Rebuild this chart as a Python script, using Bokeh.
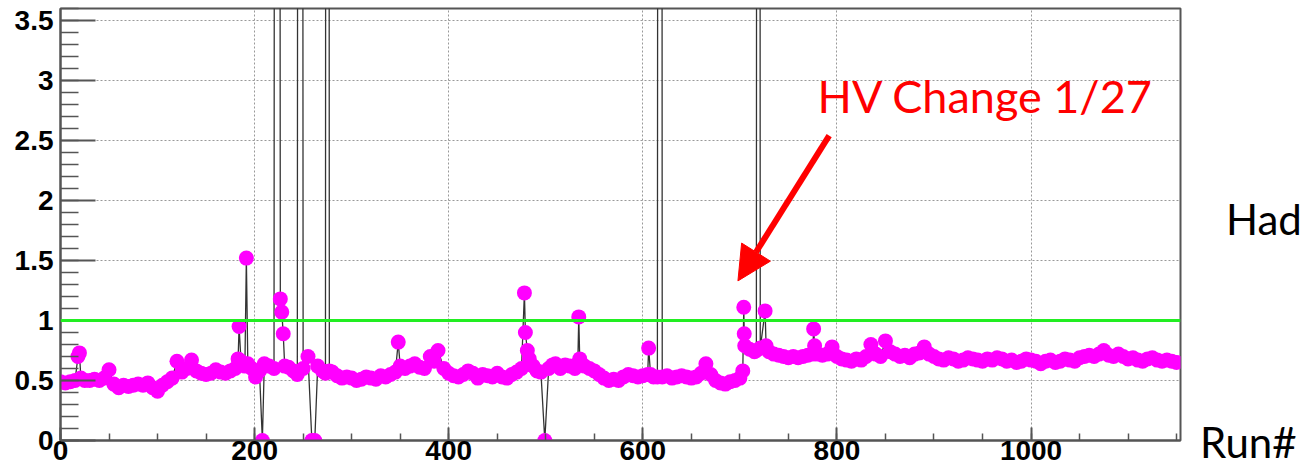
from bokeh.plotting import figure
from bokeh.layouts import row
from bokeh.models import Span, Label, Arrow, NormalHead, SingleIntervalTicker, Range1d, ColumnDataSource, Div
from bokeh.embed import file_html
from bokeh.resources import INLINE

# ---------------- data ----------------
# run index (x) and ratio (y); 40 marks off-scale points, 0 marks failed runs
run = [
    0, 5, 10, 15, 18, 19.5, 21, 25, 30, 35, 40, 45, 50, 55, 60, 65, 70, 75, 80, 85,
    90, 95, 100, 105, 110, 115, 120, 125, 130, 135, 140, 145, 150, 155, 160, 165, 170, 175, 180, 183,
    184, 186, 190, 191.5, 193, 197, 201,
    205, 208, 210, 215, 220, 223, 226.5, 228, 229.5, 231, 235, 240, 244, 247, 250, 255, 259, 262, 265,
    270, 273, 275, 277, 280, 285, 290, 295, 300,
    305, 310, 315, 320, 325, 330, 335, 340, 345, 348, 350, 355, 360, 365, 370, 375, 381, 385, 389, 395,
    400, 405, 410, 415, 420, 425, 430, 435, 440, 445, 450, 455, 460, 465, 470, 475, 478, 479, 481, 483,
    487, 491, 495, 499, 503,
    507, 510, 515, 520, 525, 530, 533, 534, 535, 540, 545, 550, 555, 560, 565, 570, 575, 580, 585, 590,
    595, 600, 605, 606, 608, 611, 615, 618, 620, 625, 630, 635, 640, 645, 650, 655, 660, 665, 670, 675,
    680, 685, 690, 695, 700, 703, 704, 704.5,
    705, 710, 715, 717, 719, 721, 726, 727, 730, 735, 740, 745, 750, 755, 760, 765, 770, 775, 776, 777,
    780, 785, 790, 795, 800, 805, 810, 815, 820, 825, 830, 835, 840, 845, 850, 855, 860, 865, 870, 875,
    880, 885, 890, 895, 900, 905, 910, 915, 920, 925, 930, 935, 940, 945, 950, 955, 960, 965, 970, 975,
    980, 985, 990, 995, 1000, 1005, 1010, 1015, 1020, 1025, 1030, 1035, 1040, 1045, 1050, 1055, 1060, 1065, 1070, 1075,
    1080, 1085, 1090, 1095, 1100, 1105, 1110, 1115, 1120, 1125, 1130, 1135, 1140, 1145, 1150,
]
ratio = [
    0.49, 0.48, 0.49, 0.50, 0.70, 0.73, 0.52, 0.50, 0.50, 0.51, 0.50, 0.52, 0.59, 0.47, 0.44, 0.46, 0.45, 0.46, 0.47, 0.46,
    0.48, 0.44, 0.41, 0.46, 0.49, 0.52, 0.66, 0.57, 0.60, 0.67, 0.58, 0.56, 0.55, 0.56, 0.59, 0.57, 0.56, 0.58, 0.60, 0.68,
    0.95, 0.66, 0.62, 1.52, 0.64, 0.60, 0.53,
    0.58, 0.00, 0.64, 0.62, 0.60, 40.0, 1.18, 1.07, 0.89, 0.62, 0.61, 0.58, 0.55, 40.0, 0.60, 0.70, 0.00, 0.00, 0.62,
    0.58, 0.56, 40.0, 0.58, 0.57, 0.54, 0.52, 0.53, 0.52,
    0.50, 0.51, 0.53, 0.52, 0.51, 0.54, 0.53, 0.55, 0.57, 0.82, 0.62, 0.60, 0.62, 0.64, 0.61, 0.60, 0.70, 0.66, 0.75, 0.60,
    0.56, 0.54, 0.53, 0.55, 0.58, 0.56, 0.52, 0.55, 0.54, 0.53, 0.56, 0.53, 0.52, 0.55, 0.57, 0.60, 1.23, 0.90, 0.75, 0.68,
    0.62, 0.58, 0.57, 0.00, 0.60,
    0.63, 0.64, 0.60, 0.63, 0.62, 0.60, 0.64, 1.03, 0.68, 0.62, 0.60, 0.58, 0.55, 0.52, 0.50, 0.51, 0.50, 0.53, 0.55, 0.54,
    0.53, 0.54, 0.55, 0.77, 0.55, 0.53, 0.53, 40.0, 0.53, 0.54, 0.52, 0.53, 0.54, 0.53, 0.52, 0.53, 0.56, 0.64, 0.55, 0.50,
    0.48, 0.47, 0.49, 0.50, 0.52, 0.58, 1.11, 0.89,
    0.79, 0.76, 0.74, 0.75, 40.0, 0.77, 1.08, 0.79, 0.74, 0.72, 0.71, 0.70, 0.69, 0.70, 0.69, 0.70, 0.71, 0.72, 0.93, 0.79,
    0.72, 0.71, 0.72, 0.78, 0.70, 0.68, 0.67, 0.66, 0.68, 0.67, 0.70, 0.80, 0.72, 0.70, 0.83, 0.74, 0.72, 0.70, 0.71, 0.69,
    0.72, 0.73, 0.78, 0.72, 0.70, 0.68, 0.67, 0.69, 0.68, 0.66, 0.67, 0.69, 0.68, 0.67, 0.66, 0.68, 0.67, 0.69, 0.68, 0.66,
    0.67, 0.65, 0.66, 0.68, 0.67, 0.66, 0.64, 0.66, 0.67, 0.65, 0.66, 0.68, 0.67, 0.66, 0.69, 0.70, 0.71, 0.70, 0.72, 0.75,
    0.71, 0.70, 0.72, 0.70, 0.68, 0.69, 0.67, 0.66, 0.68, 0.69, 0.67, 0.66, 0.67, 0.66, 0.65,
]
reference_level = 1.0
x_ticks_step = 200
y_ticks_step = 0.5
annotation_text = "HV Change 1/27"
x_title = "Run#"
side_text = "Had"

# ---------------- main figure ----------------
p = figure(width=1184, height=472, output_backend="svg", toolbar_location=None,
           x_range=Range1d(0, 1154), y_range=Range1d(0, 3.6),
           min_border_left=60, min_border_right=4, min_border_top=8, min_border_bottom=32)
p.background_fill_color = "white"
p.border_fill_color = "white"
p.outline_line_color = "#555555"
p.outline_line_width = 2

p.xaxis.ticker = SingleIntervalTicker(interval=x_ticks_step, num_minor_ticks=4)
p.yaxis.ticker = SingleIntervalTicker(interval=y_ticks_step, num_minor_ticks=5)
for ax in (p.xaxis, p.yaxis):
    ax.axis_line_color = "#555555"
    ax.axis_line_width = 2
    ax.major_tick_line_color = "#555555"
    ax.minor_tick_line_color = "#555555"
    ax.major_tick_line_width = 2
    ax.minor_tick_line_width = 1.5
    ax.major_tick_out = 0
    ax.minor_tick_out = 0
    ax.major_label_text_font = "Liberation Sans"
    ax.major_label_text_font_style = "bold"
    ax.major_label_text_font_size = "28px"
    ax.major_label_text_color = "black"
p.xaxis.major_tick_in = 13
p.xaxis.minor_tick_in = 7
p.yaxis.major_tick_in = 35
p.yaxis.minor_tick_in = 18
p.xaxis.major_label_standoff = 0
p.yaxis.major_label_standoff = 7

for g in (p.xgrid, p.ygrid):
    g.grid_line_color = "#999999"
    g.grid_line_dash = "2 2"
    g.grid_line_width = 1

src = ColumnDataSource(data=dict(run=run, ratio=ratio))
p.line("run", "ratio", source=src, line_color="#333333", line_width=1.3)
p.scatter("run", "ratio", source=src, size=15, fill_color="#ff00ff", line_color=None)

p.add_layout(Span(location=reference_level, dimension="width", line_color="#22ee22", line_width=3))

p.add_layout(Arrow(end=NormalHead(size=34, fill_color="red", line_color="red"),
                   x_start=792, y_start=2.54, x_end=698, y_end=1.33,
                   line_color="red", line_width=6))
p.add_layout(Label(x=780, y=2.87, text=annotation_text, text_color="red",
                   text_font="Lato", text_font_size="45px", text_baseline="middle"))

# ---------------- right-hand margin with the outside texts ----------------
side_html = (
    '<div style="position:relative;width:117px;height:472px;overflow:hidden;'
    'font-family:Lato;font-size:42px;line-height:42px;color:black;white-space:nowrap;">'
    f'<span style="position:absolute;left:42px;top:198px;">{side_text}</span>'
    f'<span style="position:absolute;left:16px;top:421px;">{x_title}</span>'
    '</div>'
)
side = Div(text=side_html, width=117, height=472, styles={"margin": "0", "padding": "0", "overflow": "hidden"})

layout = row(p, side, spacing=0)
open("out.html", "w").write(file_html(layout, INLINE))
